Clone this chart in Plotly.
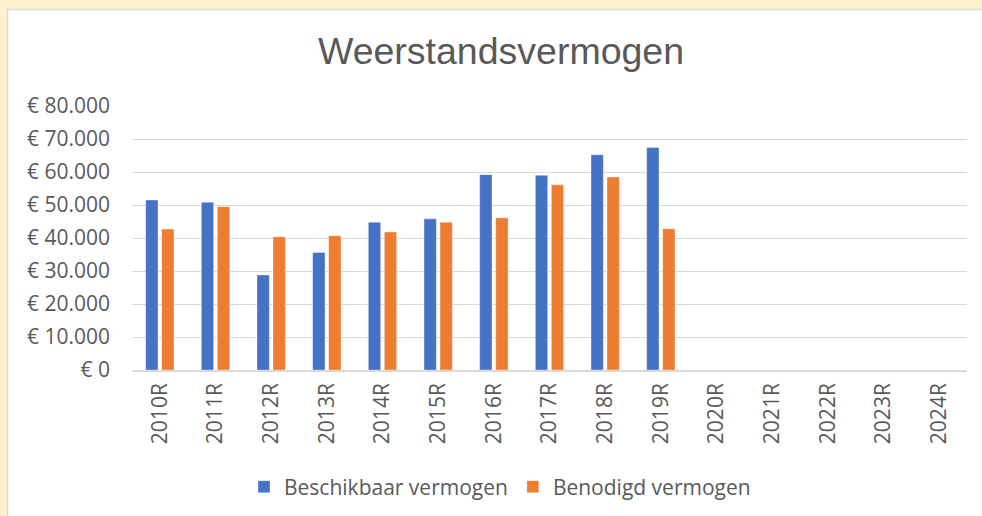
import plotly.graph_objects as go

categories = ["2010R", "2011R", "2012R", "2013R", "2014R", "2015R", "2016R", "2017R",
              "2018R", "2019R", "2020R", "2021R", "2022R", "2023R", "2024R"]
beschikbaar = [51500, 50800, 28800, 35600, 44800, 45800, 59200, 59000, 65200, 67400,
               None, None, None, None, None]
benodigd = [42700, 49500, 40400, 40700, 41800, 44800, 46100, 56100, 58500, 42800,
            None, None, None, None, None]
y_ticks = [0, 10000, 20000, 30000, 40000, 50000, 60000, 70000, 80000]
y_tick_labels = ["€ 0", "€ 10.000", "€ 20.000", "€ 30.000", "€ 40.000",
                 "€ 50.000", "€ 60.000", "€ 70.000", "€ 80.000"]

W, H = 982, 516
L, R, T, B = 132, 15, 106, 146
pw, ph = W - L - R, H - T - B

def px(x):
    return (x - L) / pw

def py(y):
    return (H - B - y) / ph

FONT = "Open Sans"
GREY = "#595959"

fig = go.Figure()
fig.add_trace(go.Bar(x=categories, y=beschikbaar, name="Beschikbaar vermogen",
                     marker=dict(color="#4472C4", line=dict(color="rgba(255,255,255,0.6)", width=0.6))))
fig.add_trace(go.Bar(x=categories, y=benodigd, name="Benodigd vermogen",
                     marker=dict(color="#ED7D31", line=dict(color="rgba(255,255,255,0.6)", width=0.6))))

fig.update_layout(
    width=W, height=H,
    margin=dict(l=L, r=R, t=T, b=B, autoexpand=False),
    paper_bgcolor="#FFF2CC",
    plot_bgcolor="rgba(0,0,0,0)",
    barmode="group", bargap=0.425, bargroupgap=0.23,
    font=dict(family=FONT, size=21, color=GREY),
    title=dict(text="Weerstandsvermogen", x=px(501), xref="paper", xanchor="center",
               y=1 - 51 / H, yref="container", yanchor="middle",
               font=dict(family="Liberation Sans", size=37.5, color=GREY)),
    showlegend=True,
    legend=dict(orientation="h", x=px(500), xanchor="center", y=py(487), yanchor="middle",
                font=dict(family=FONT, size=21, color=GREY), bgcolor="rgba(0,0,0,0)",
                itemwidth=30, traceorder="normal"),
    shapes=[dict(type="rect", xref="paper", yref="paper", x0=px(7.5), x1=px(1000),
                 y0=py(530), y1=py(9.5), fillcolor="white",
                 line=dict(color="#D9D9D9", width=1.5), layer="below")],
)
fig.update_xaxes(tickangle=-90, showgrid=False, showline=True, linecolor="#D9D9D9",
                 linewidth=1.5, ticks="", tickfont=dict(family=FONT, size=21, color=GREY),
                 ticklabelstandoff=3)
fig.update_yaxes(range=[0, 80000], tickvals=y_ticks, ticktext=y_tick_labels,
                 showgrid=True, gridcolor="#D9D9D9", gridwidth=1.2, zeroline=False,
                 showline=False, ticks="", tickfont=dict(family=FONT, size=21, color=GREY),
                 ticklabelstandoff=21)

fig.write_html("out.html", config={"displayModeBar": False},
               post_script="document.body.style.margin='0';document.body.style.padding='0';")
